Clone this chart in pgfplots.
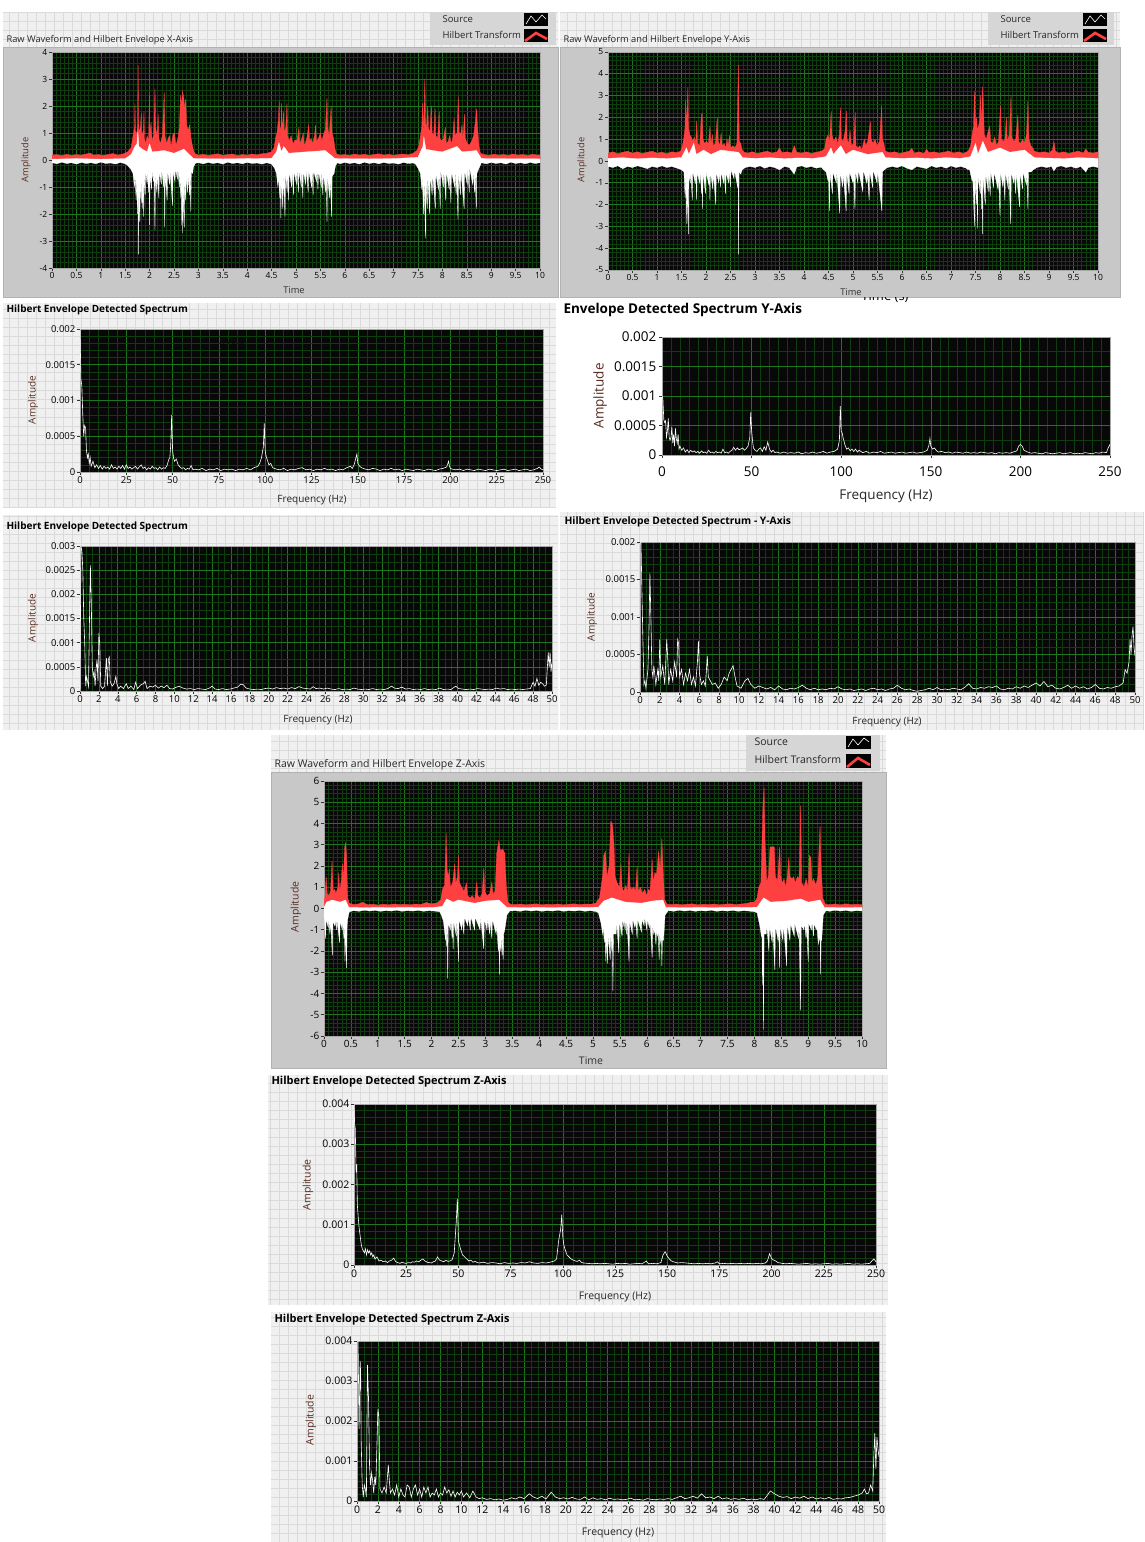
\documentclass[border=0pt]{standalone}
\usepackage{pgfplots}
\pgfplotsset{compat=1.18}
\usepackage{fontspec}
\setmainfont{Open Sans}
\definecolor{pbg}{RGB}{240,240,240}
\definecolor{pgr}{RGB}{218,218,218}
\definecolor{frm}{RGB}{200,200,200}
\definecolor{lvred}{RGB}{255,64,64}
\definecolor{gmaj}{RGB}{30,118,30}
\definecolor{gmin}{RGB}{14,62,14}
\definecolor{pbk}{RGB}{8,8,8}
\definecolor{amp}{RGB}{90,45,35}
\definecolor{lgbg}{RGB}{214,214,214}
\newcommand\fs[1]{\fontsize{#1}{#1}\selectfont}
\newcommand\gridpanel[4]{%
  \pgfmathsetmacro\ya{1542-#4}\pgfmathsetmacro\yb{1542-#2}%
  \fill[pbg] (#1pt,\ya pt) rectangle (#3pt,\yb pt);
  \begin{scope}\clip (#1pt,\ya pt) rectangle (#3pt,\yb pt);
  \draw[pgr,line width=0.6pt,step=9pt] (#1pt,\ya pt) grid (#3pt,\yb pt);\end{scope}}
\pgfplotsset{
 lv/.style={
  scale only axis, anchor=south west,
  axis background/.style={fill=pbk},
  grid=both,
  major grid style={draw=gmaj, line width=0.6pt},
  minor grid style={draw=gmin, line width=0.5pt},
  tick align=outside, tick pos=left,
  major tick length=3pt, minor tick length=0pt,
  major tick style={draw=black!80, line width=0.5pt},
  axis line style={draw=gray!70},
  /pgf/number format/assume math mode=true,
  scaled ticks=false, clip=true,
  xticklabel style={text=black, inner sep=1.5pt},
  yticklabel style={text=black, inner sep=1.5pt},
 },
 red/.style={draw=lvred, fill=lvred, line width=0.3pt},
 wht/.style={draw=white, fill=white, line width=0.3pt},
 zl/.style={draw=white, line width=2.4pt},
 spec/.style={draw=white, line width=0.6pt},
}
\begin{document}
\begin{tikzpicture}
\useasboundingbox (0,0) rectangle (1144pt,1542pt);
\fill[white] (0,0) rectangle (1144pt,1542pt);
\gridpanel{3}{12}{558}{48}
\gridpanel{560}{12}{1120}{48}
\gridpanel{3}{303}{556}{508}
\gridpanel{3}{515}{558}{730}
\gridpanel{560}{512}{1144}{730}
\gridpanel{271}{735}{886}{773}
\gridpanel{268}{1075}{888}{1305}
\gridpanel{271}{1312}{886}{1542}
\begin{scope}[x=1pt,y=-1pt,yshift=1542pt]
\fill[frm] (3,47) rectangle (558,297); \draw[gray!60] (3,47) rectangle (558,297);
\fill[frm] (560,47) rectangle (1120,297); \draw[gray!60] (560,47) rectangle (1120,297);
\fill[frm] (271,772) rectangle (886,1068); \draw[gray!60] (271,772) rectangle (886,1068);
\fill[lgbg] (430,12) rectangle (556,45);
\fill[black] (524,13) rectangle (548,26); \draw[white,line width=0.6pt] (526,24)--(531,16)--(536,22)--(542,15)--(546,19);
\fill[black] (524,29) rectangle (548,42); \draw[lvred,line width=2.6pt] (525,41)--(536,33)--(547,39);
\fill[lgbg] (988,12) rectangle (1114,45);
\fill[black] (1083,13) rectangle (1107,26); \draw[white,line width=0.6pt] (1085,24)--(1090,16)--(1095,22)--(1101,15)--(1105,19);
\fill[black] (1083,29) rectangle (1107,42); \draw[lvred,line width=2.6pt] (1084,41)--(1095,33)--(1106,39);
\fill[lgbg] (746,735) rectangle (880,771);
\fill[black] (846,736) rectangle (871,749); \draw[white,line width=0.6pt] (848,747)--(853,739)--(858,745)--(864,738)--(869,742);
\fill[black] (846,754) rectangle (871,768); \draw[lvred,line width=2.6pt] (847,767)--(858,758)--(870,765);
\end{scope}

% ---------------- Panel 1: X waveform
\begin{axis}[lv, at={(52pt,1274pt)}, width=488pt, height=216pt,
 xmin=0,xmax=10,ymin=-4,ymax=4, xtick={0,0.5,...,10}, ytick={-4,-3,...,4},
 minor x tick num=5, minor y tick num=4, ticklabel style={font=\fs{8.5}}]
\addplot[red] coordinates {(0,0.18)(0.1,0.2)(0.2,0.16)(0.3,0.21)(0.4,0.17)(0.5,0.2)(0.6,0.18)(0.7,0.22)(0.78,0.26)(0.85,0.18)(0.95,0.2)(1.05,0.17)(1.15,0.2)(1.25,0.24)(1.35,0.18)(1.45,0.22)(1.55,0.3)(1.62,0.45)
(1.66,0.9)(1.69,1.2)(1.70,2.1)(1.71,1.1)(1.73,0.9)(1.755,1.3)(1.765,3.5)(1.775,1.4)(1.79,1.0)(1.81,1.2)(1.83,1.75)(1.84,0.9)(1.87,1.1)(1.885,1.8)(1.895,0.8)(1.92,0.6)(1.95,0.9)(1.98,0.7)(1.995,2.4)(2.005,1.0)(2.03,1.4)(2.05,0.7)(2.08,0.9)(2.11,2.65)(2.125,1.2)(2.15,0.9)(2.175,1.7)(2.19,0.8)(2.22,0.6)(2.26,0.9)(2.3,2.5)(2.315,0.9)(2.35,0.6)(2.38,0.8)(2.41,0.9)(2.44,0.5)(2.48,0.95)(2.51,1.0)(2.54,0.55)(2.58,0.8)(2.61,1.2)(2.635,2.4)(2.655,2.0)(2.675,2.55)(2.70,2.3)(2.72,1.9)(2.74,2.25)(2.76,1.3)(2.79,1.1)(2.82,1.3)(2.85,0.8)(2.88,0.5)(2.91,0.3)(2.94,0.22)
(3.0,0.18)(3.1,0.21)(3.2,0.17)(3.3,0.2)(3.4,0.23)(3.5,0.17)(3.6,0.2)(3.7,0.22)(3.8,0.16)(3.9,0.2)(4.0,0.18)(4.1,0.22)(4.2,0.19)(4.3,0.23)(4.4,0.25)(4.5,0.3)(4.55,0.45)
(4.58,0.8)(4.61,1.0)(4.64,1.5)(4.655,2.2)(4.67,1.2)(4.69,1.1)(4.705,2.1)(4.72,1.0)(4.745,1.8)(4.76,1.0)(4.79,1.2)(4.815,2.1)(4.83,0.9)(4.86,0.7)(4.9,0.9)(4.94,0.6)(4.98,0.75)(5.02,0.7)(5.06,1.2)(5.08,0.6)(5.12,0.8)(5.15,1.0)(5.17,0.5)(5.22,0.8)(5.26,1.3)(5.28,0.7)(5.31,0.8)(5.34,0.6)(5.38,0.9)(5.40,1.3)(5.42,0.7)(5.46,0.8)(5.5,1.0)(5.53,0.7)(5.57,1.0)(5.6,1.1)(5.635,2.3)(5.65,1.2)(5.68,0.9)(5.72,2.0)(5.74,1.0)(5.77,0.8)(5.80,0.4)(5.83,0.22)
(5.9,0.18)(6.0,0.2)(6.1,0.17)(6.2,0.22)(6.3,0.18)(6.4,0.21)(6.5,0.17)(6.6,0.2)(6.7,0.23)(6.8,0.18)(6.9,0.21)(7.0,0.17)(7.1,0.2)(7.2,0.22)(7.3,0.19)(7.4,0.25)(7.48,0.35)(7.52,0.55)
(7.55,0.9)(7.575,1.2)(7.595,2.1)(7.61,1.0)(7.625,1.9)(7.64,3.0)(7.655,1.4)(7.67,1.1)(7.70,2.0)(7.715,1.2)(7.74,1.0)(7.775,2.0)(7.79,1.0)(7.82,0.9)(7.85,1.9)(7.865,0.9)(7.9,0.8)(7.935,1.8)(7.95,0.8)(7.98,0.7)(8.02,0.8)(8.06,1.2)(8.08,0.6)(8.12,0.7)(8.15,0.9)(8.18,0.6)(8.21,0.8)(8.24,1.55)(8.26,0.9)(8.30,1.0)(8.325,2.35)(8.345,1.0)(8.38,1.0)(8.40,1.3)(8.42,0.8)(8.455,1.7)(8.47,0.8)(8.51,0.6)(8.55,0.55)(8.6,0.7)(8.64,0.9)(8.68,1.5)(8.70,1.9)(8.72,1.2)(8.75,0.5)(8.78,0.25)
(8.85,0.2)(8.95,0.17)(9.05,0.21)(9.15,0.18)(9.25,0.2)(9.35,0.17)(9.45,0.22)(9.55,0.18)(9.65,0.2)(9.75,0.17)(9.85,0.21)(9.95,0.18)(10,0.19)} \closedcycle;
\addplot[wht] coordinates {(0,-0.1)(0.1,-0.14)(0.2,-0.08)(0.3,-0.13)(0.4,-0.1)(0.5,-0.15)(0.6,-0.09)(0.7,-0.13)(0.8,-0.1)(0.9,-0.14)(1.0,-0.08)(1.1,-0.13)(1.2,-0.11)(1.3,-0.15)(1.4,-0.09)(1.5,-0.14)
(1.55,-0.2)(1.62,-0.35)(1.66,-0.5)(1.69,-1.0)(1.70,-0.5)(1.725,-1.5)(1.735,-0.6)(1.755,-2.0)(1.765,-0.7)(1.775,-3.5)(1.785,-0.8)(1.80,-2.3)(1.81,-0.6)(1.83,-1.6)(1.84,-0.5)(1.855,-1.8)(1.865,-0.5)(1.88,-2.1)(1.89,-0.5)(1.91,-1.3)(1.92,-0.4)(1.95,-0.9)(1.96,-0.4)(1.98,-1.2)(1.99,-0.5)(2.00,-2.4)(2.01,-0.5)(2.04,-1.1)(2.05,-0.4)(2.08,-0.8)(2.09,-0.4)(2.11,-2.6)(2.12,-0.5)(2.15,-1.2)(2.16,-0.4)(2.19,-1.4)(2.2,-0.4)(2.24,-0.9)(2.25,-0.4)(2.29,-1.0)(2.30,-0.5)(2.31,-2.5)(2.32,-0.5)(2.36,-1.5)(2.37,-0.4)(2.41,-0.9)(2.42,-0.4)(2.47,-1.7)(2.48,-0.4)(2.52,-0.8)(2.53,-0.3)(2.57,-0.7)(2.58,-0.3)(2.61,-1.0)(2.62,-0.5)(2.64,-1.4)(2.65,-0.8)(2.66,-2.4)(2.67,-1.0)(2.68,-2.7)(2.69,-0.9)(2.71,-2.5)(2.72,-0.8)(2.74,-1.5)(2.75,-0.6)(2.78,-1.2)(2.79,-0.5)(2.82,-1.3)(2.83,-0.5)(2.845,-1.9)(2.855,-0.4)(2.88,-0.5)(2.9,-0.25)(2.94,-0.12)
(3.0,-0.1)(3.1,-0.14)(3.2,-0.09)(3.3,-0.13)(3.4,-0.1)(3.5,-0.15)(3.6,-0.08)(3.7,-0.13)(3.8,-0.1)(3.9,-0.14)(4.0,-0.09)(4.1,-0.13)(4.2,-0.11)(4.3,-0.15)(4.4,-0.1)
(4.5,-0.15)(4.56,-0.3)(4.6,-0.5)(4.63,-1.0)(4.64,-0.5)(4.67,-1.4)(4.68,-0.6)(4.69,-2.15)(4.70,-0.6)(4.73,-1.8)(4.74,-0.5)(4.775,-2.1)(4.785,-0.5)(4.82,-1.2)(4.83,-0.4)(4.85,-1.5)(4.86,-0.4)(4.91,-1.0)(4.92,-0.4)(4.95,-1.3)(4.96,-0.4)(5.01,-0.9)(5.02,-0.3)(5.05,-1.2)(5.06,-0.4)(5.11,-1.0)(5.12,-0.4)(5.14,-1.4)(5.15,-0.4)(5.2,-0.9)(5.21,-0.3)(5.25,-1.2)(5.26,-0.4)(5.32,-1.0)(5.33,-0.4)(5.35,-1.3)(5.36,-0.4)(5.42,-0.8)(5.43,-0.3)(5.45,-1.1)(5.46,-0.4)(5.52,-1.0)(5.53,-0.4)(5.55,-1.3)(5.56,-0.5)(5.61,-1.2)(5.62,-0.6)(5.635,-2.3)(5.645,-0.6)(5.69,-1.4)(5.70,-0.6)(5.73,-2.1)(5.74,-0.6)(5.78,-0.5)(5.81,-0.2)(5.85,-0.1)
(5.9,-0.14)(6.0,-0.09)(6.1,-0.13)(6.2,-0.1)(6.3,-0.15)(6.4,-0.08)(6.5,-0.13)(6.6,-0.1)(6.7,-0.14)(6.8,-0.09)(6.9,-0.13)(7.0,-0.11)(7.1,-0.15)(7.2,-0.09)(7.3,-0.13)(7.4,-0.11)
(7.45,-0.15)(7.5,-0.3)(7.55,-0.5)(7.58,-1.1)(7.59,-0.6)(7.615,-2.0)(7.625,-0.7)(7.655,-2.9)(7.665,-0.7)(7.69,-1.8)(7.70,-0.6)(7.74,-2.0)(7.75,-0.5)(7.79,-1.3)(7.80,-0.5)(7.855,-1.8)(7.865,-0.5)(7.92,-1.1)(7.93,-0.4)(7.955,-1.8)(7.965,-0.4)(8.02,-1.0)(8.03,-0.4)(8.07,-1.5)(8.08,-0.4)(8.14,-1.1)(8.15,-0.4)(8.175,-1.6)(8.185,-0.4)(8.25,-1.0)(8.26,-0.4)(8.28,-1.3)(8.29,-0.5)(8.32,-2.2)(8.33,-0.5)(8.37,-1.3)(8.38,-0.4)(8.445,-1.8)(8.455,-0.4)(8.51,-0.9)(8.52,-0.3)(8.55,-1.2)(8.56,-0.3)(8.62,-0.9)(8.63,-0.4)(8.66,-1.2)(8.67,-0.5)(8.695,-1.8)(8.705,-0.5)(8.75,-0.3)(8.8,-0.1)
(8.9,-0.14)(9.0,-0.09)(9.1,-0.13)(9.2,-0.1)(9.3,-0.15)(9.4,-0.08)(9.5,-0.13)(9.6,-0.1)(9.7,-0.14)(9.8,-0.09)(9.9,-0.13)(10,-0.1)} \closedcycle;
\addplot[wht] coordinates {(0,0.03)(0.5,0.05)(1.0,0.03)(1.5,0.05)(1.62,0.2)(1.7,0.5)(1.74,0.6)(1.76,1.05)(1.78,0.5)(1.85,0.4)(1.95,0.3)(2.0,0.6)(2.05,0.3)(2.3,0.35)(2.5,0.25)(2.7,0.4)(2.9,0.05)(3.5,0.04)(4.0,0.05)(4.5,0.06)(4.6,0.3)(4.65,0.65)(4.7,0.3)(4.75,0.5)(4.85,0.25)(5.2,0.3)(5.6,0.35)(5.8,0.05)(6.5,0.04)(7.0,0.05)(7.5,0.1)(7.6,0.5)(7.62,0.85)(7.66,0.4)(7.8,0.35)(8.0,0.3)(8.3,0.5)(8.4,0.3)(8.7,0.35)(8.8,0.05)(10,0.04)} \closedcycle;
\addplot[zl] coordinates {(0,-0.02)(10,-0.02)};
\end{axis}

% ---------------- Panel 2: Y waveform
\begin{axis}[lv, at={(608pt,1272pt)}, width=490pt, height=218pt,
 xmin=0,xmax=10,ymin=-5,ymax=5, xtick={0,0.5,...,10}, ytick={-5,-4,...,5},
 minor x tick num=5, minor y tick num=4, ticklabel style={font=\fs{8.5}}]
\addplot[red] coordinates {(0,0.35)(0.1,0.42)(0.2,0.33)(0.3,0.4)(0.4,0.45)(0.5,0.36)(0.6,0.42)(0.7,0.34)(0.8,0.4)(0.9,0.45)(1.0,0.36)(1.1,0.4)(1.2,0.33)(1.3,0.42)(1.4,0.38)(1.48,0.45)(1.52,0.7)
(1.55,1.1)(1.57,1.5)(1.585,2.8)(1.6,1.6)(1.615,2.4)(1.63,3.35)(1.645,1.5)(1.67,1.2)(1.70,1.1)(1.73,0.9)(1.76,1.1)(1.79,0.8)(1.81,1.85)(1.83,0.8)(1.87,0.7)(1.905,2.1)(1.92,2.2)(1.94,1.0)(1.97,0.8)(2.01,0.9)(2.05,0.8)(2.08,1.6)(2.1,0.8)(2.13,1.2)(2.15,0.7)(2.19,0.8)(2.23,2.0)(2.25,0.9)(2.28,0.7)(2.31,1.3)(2.33,0.7)(2.37,0.8)(2.40,0.6)(2.43,1.0)(2.45,0.7)(2.48,1.15)(2.50,0.6)(2.55,0.7)(2.59,0.6)(2.63,0.8)(2.66,4.4)(2.68,0.9)(2.71,0.8)(2.74,0.5)(2.78,0.4)
(2.85,0.36)(2.95,0.42)(3.05,0.34)(3.15,0.4)(3.25,0.45)(3.35,0.36)(3.45,0.42)(3.5,0.6)(3.55,0.38)(3.65,0.42)(3.75,0.36)(3.8,0.7)(3.85,0.4)(3.95,0.36)(4.05,0.42)(4.15,0.34)(4.25,0.4)(4.35,0.45)(4.42,0.55)
(4.45,1.0)(4.49,1.2)(4.52,0.9)(4.555,2.3)(4.57,1.2)(4.61,0.9)(4.65,1.1)(4.69,0.8)(4.72,1.2)(4.745,2.45)(4.76,1.0)(4.8,0.9)(4.84,1.4)(4.865,2.3)(4.88,1.0)(4.91,0.8)(4.94,1.4)(4.97,0.7)(5.01,0.8)(5.045,2.25)(5.06,0.7)(5.1,0.6)(5.14,0.7)(5.18,0.5)(5.23,1.0)(5.26,0.7)(5.3,0.9)(5.355,1.8)(5.37,1.0)(5.41,0.8)(5.45,1.0)(5.49,0.7)(5.54,0.9)(5.585,2.55)(5.6,1.0)(5.63,0.8)(5.66,0.45)
(5.75,0.38)(5.85,0.42)(5.95,0.34)(6.05,0.4)(6.15,0.45)(6.2,0.58)(6.25,0.36)(6.35,0.42)(6.45,0.34)(6.5,0.55)(6.55,0.38)(6.65,0.42)(6.75,0.36)(6.85,0.4)(6.95,0.45)(7.05,0.36)(7.15,0.42)(7.25,0.34)(7.35,0.45)(7.4,0.7)
(7.43,1.2)(7.46,1.6)(7.48,3.2)(7.50,1.5)(7.52,2.0)(7.54,1.4)(7.58,1.8)(7.60,3.0)(7.62,1.6)(7.645,3.4)(7.66,2.6)(7.68,1.2)(7.72,1.0)(7.75,1.3)(7.79,1.6)(7.81,0.9)(7.85,0.8)(7.89,1.1)(7.93,0.7)(7.97,0.9)(8.01,2.55)(8.03,1.0)(8.07,0.9)(8.10,1.0)(8.13,2.0)(8.15,0.9)(8.19,1.2)(8.225,3.0)(8.24,1.1)(8.28,0.9)(8.32,1.0)(8.365,2.1)(8.38,0.9)(8.42,0.8)(8.46,1.0)(8.5,0.8)(8.54,1.2)(8.57,2.75)(8.59,1.0)(8.63,0.7)(8.67,0.6)(8.7,0.45)
(8.8,0.38)(8.9,0.42)(9.0,0.36)(9.07,0.5)(9.1,0.9)(9.13,0.45)(9.2,0.36)(9.3,0.42)(9.4,0.34)(9.5,0.4)(9.6,0.45)(9.7,0.36)(9.75,0.55)(9.8,0.4)(9.9,0.36)(10,0.42)} \closedcycle;
\addplot[wht] coordinates {(0,-0.25)(0.1,-0.3)(0.2,-0.22)(0.3,-0.35)(0.4,-0.25)(0.5,-0.3)(0.6,-0.22)(0.7,-0.28)(0.8,-0.35)(0.9,-0.25)(1.0,-0.3)(1.1,-0.22)(1.2,-0.3)(1.3,-0.25)(1.4,-0.32)(1.5,-0.4)
(1.55,-0.5)(1.575,-1.7)(1.585,-0.6)(1.61,-2.9)(1.62,-0.8)(1.64,-3.35)(1.65,-0.7)(1.68,-1.0)(1.69,-0.5)(1.72,-1.8)(1.73,-0.5)(1.78,-1.0)(1.79,-0.5)(1.81,-1.8)(1.82,-0.5)(1.87,-1.0)(1.88,-0.5)(1.91,-1.5)(1.92,-0.6)(1.93,-2.2)(1.94,-0.5)(1.99,-1.5)(2.0,-0.5)(2.06,-1.1)(2.07,-0.5)(2.08,-1.8)(2.09,-0.5)(2.14,-1.3)(2.15,-0.5)(2.2,-2.0)(2.21,-0.5)(2.26,-1.0)(2.27,-0.5)(2.3,-1.2)(2.31,-0.5)(2.36,-1.0)(2.37,-0.5)(2.4,-1.5)(2.41,-0.5)(2.46,-1.0)(2.47,-0.5)(2.5,-1.2)(2.51,-0.4)(2.57,-0.8)(2.58,-0.4)(2.645,-1.2)(2.655,-0.5)(2.665,-4.3)(2.675,-0.5)(2.71,-0.6)(2.74,-0.4)(2.8,-0.3)
(2.9,-0.25)(3.0,-0.3)(3.1,-0.22)(3.2,-0.33)(3.3,-0.25)(3.4,-0.3)(3.5,-0.4)(3.6,-0.25)(3.7,-0.3)(3.8,-0.6)(3.85,-0.28)(3.95,-0.22)(4.05,-0.3)(4.15,-0.25)(4.25,-0.33)(4.35,-0.28)(4.4,-0.4)
(4.45,-0.5)(4.49,-0.9)(4.50,-0.5)(4.52,-2.3)(4.53,-0.5)(4.58,-1.5)(4.59,-0.5)(4.66,-1.0)(4.67,-0.5)(4.73,-2.4)(4.74,-0.5)(4.79,-1.2)(4.8,-0.5)(4.86,-2.3)(4.87,-0.5)(4.92,-1.5)(4.93,-0.5)(5.0,-1.0)(5.01,-0.5)(5.04,-2.2)(5.05,-0.5)(5.1,-1.0)(5.11,-0.4)(5.2,-1.4)(5.21,-0.4)(5.28,-1.0)(5.29,-0.5)(5.33,-1.8)(5.34,-0.5)(5.4,-1.2)(5.41,-0.4)(5.49,-1.0)(5.5,-0.4)(5.59,-2.3)(5.60,-0.5)(5.64,-0.4)(5.7,-0.3)
(5.8,-0.25)(5.9,-0.3)(6.0,-0.22)(6.1,-0.33)(6.2,-0.4)(6.3,-0.25)(6.4,-0.3)(6.5,-0.35)(6.6,-0.22)(6.7,-0.3)(6.8,-0.25)(6.9,-0.33)(7.0,-0.22)(7.1,-0.3)(7.2,-0.25)(7.3,-0.32)(7.35,-0.4)
(7.38,-0.4)(7.43,-0.9)(7.44,-0.5)(7.48,-3.0)(7.49,-0.7)(7.52,-2.0)(7.53,-0.7)(7.54,-3.1)(7.55,-0.7)(7.6,-1.5)(7.61,-0.6)(7.625,-2.2)(7.63,-0.8)(7.64,-3.35)(7.65,-0.7)(7.7,-2.0)(7.71,-0.6)(7.76,-1.4)(7.77,-0.5)(7.8,-1.6)(7.81,-0.5)(7.87,-1.2)(7.88,-0.5)(7.96,-1.3)(7.97,-0.5)(8.0,-2.5)(8.01,-0.5)(8.06,-1.2)(8.07,-0.5)(8.1,-1.8)(8.11,-0.5)(8.17,-1.3)(8.18,-0.5)(8.22,-2.9)(8.23,-0.5)(8.28,-1.0)(8.29,-0.5)(8.32,-1.5)(8.33,-0.5)(8.4,-2.1)(8.41,-0.5)(8.46,-1.3)(8.47,-0.5)(8.54,-1.1)(8.55,-0.5)(8.57,-2.2)(8.58,-0.5)(8.63,-0.5)(8.68,-0.4)(8.75,-0.3)
(8.85,-0.25)(8.95,-0.3)(9.05,-0.25)(9.1,-0.45)(9.15,-0.28)(9.25,-0.22)(9.35,-0.3)(9.45,-0.25)(9.55,-0.33)(9.65,-0.25)(9.75,-0.5)(9.8,-0.3)(9.9,-0.25)(10,-0.3)} \closedcycle;
\addplot[wht] coordinates {(0,0.12)(0.3,0.15)(0.6,0.1)(0.9,0.14)(1.2,0.11)(1.5,0.16)(1.6,0.6)(1.65,0.3)(1.75,0.8)(1.8,0.3)(1.95,0.5)(2.1,0.3)(2.3,0.5)(2.66,0.4)(2.75,0.15)(3.0,0.12)(3.3,0.15)(3.6,0.11)(3.9,0.14)(4.2,0.12)(4.45,0.2)(4.55,0.6)(4.6,0.3)(4.75,0.7)(4.85,0.3)(5.0,0.5)(5.3,0.3)(5.6,0.4)(5.66,0.15)(6.0,0.12)(6.3,0.14)(6.6,0.11)(6.9,0.15)(7.2,0.12)(7.4,0.2)(7.5,0.8)(7.55,0.3)(7.65,0.9)(7.75,0.4)(8.0,0.6)(8.2,0.4)(8.5,0.5)(8.7,0.15)(9.0,0.13)(9.3,0.11)(9.6,0.15)(10,0.12)} \closedcycle;
\addplot[zl] coordinates {(0,-0.05)(10,-0.05)};
\addplot[zl] coordinates {(0,-0.15)(10,-0.15)};
\end{axis}

% ---------------- Panel 3: X spectrum 0-250
\begin{axis}[lv, at={(80pt,1070pt)}, width=463pt, height=143pt,
 xmin=0,xmax=250,ymin=0,ymax=0.002, xtick={0,25,...,250},
 ytick={0,0.0005,0.001,0.0015,0.002}, yticklabels={0,0.0005,0.001,0.0015,0.002},
 minor x tick num=4, minor y tick num=4, ticklabel style={font=\fs{9.5}}]
\addplot[spec] coordinates {(0,0.0020)(0.5,0.0013)(1,0.0012)(1.5,0.0008)(2,0.0005)(2.5,0.00065)(3,0.00062)(3.5,0.0003)(4,0.0002)(4.5,0.00025)(5,0.00012)(5.5,0.0002)(6,0.00008)(7,0.00015)(8,0.00006)(9,0.0001)(10,0.00005)(11,0.00009)(12,0.00004)(13,0.00008)(14,0.00005)(15,0.00007)(16,0.00004)(17,0.0001)(18,0.00005)(19,0.00007)(20,0.00004)(21,0.00008)(22,0.00005)(23,0.00009)(24,0.00004)(25,0.0001)(26,0.00005)(27,0.00007)(28,0.00004)(29,0.00006)(30,0.00008)(31,0.00004)(32,0.00007)(33,0.0001)(34,0.00005)(35,0.00007)(36,0.00003)(37,0.00006)(38,0.00004)(39,0.00008)(40,0.00005)(41,0.00006)(42,0.00003)(43,0.00007)(44,0.00004)(45,0.00006)(46,0.00005)(47,0.00009)(48,0.00018)(48.5,0.0002)(49,0.00038)(49.5,0.0008)(50,0.0003)(50.5,0.0002)(51,0.00015)(52,0.00018)(53,0.0001)(54,0.00007)(55,0.00005)(56,0.00006)(57,0.00003)(58,0.00005)(59,0.00004)(60,0.00009)(61,0.00003)(62,0.00004)(64,0.00003)(66,0.00005)(68,0.00002)(70,0.00004)(72,0.00003)(74,0.00005)(76,0.00002)(78,0.00004)(80,0.00003)(82,0.00004)(84,0.00002)(86,0.00004)(88,0.00003)(90,0.00005)(92,0.00003)(94,0.00006)(96,0.00008)(97,0.00012)(98,0.0002)(99,0.00035)(99.5,0.00068)(100,0.0003)(100.5,0.00022)(101,0.00018)(102,0.0001)(103,0.00012)(104,0.00006)(106,0.00004)(108,0.00003)(110,0.00005)(112,0.00002)(114,0.00004)(116,0.00003)(118,0.00005)(120,0.00006)(122,0.00003)(124,0.00004)(126,0.00002)(128,0.00004)(130,0.00003)(132,0.00005)(134,0.00003)(136,0.00004)(138,0.00002)(140,0.00004)(142,0.00003)(144,0.00006)(146,0.00008)(147,0.00005)(148,0.0001)(149,0.0002)(149.5,0.00025)(150,0.00012)(151,0.00008)(152,0.00006)(154,0.00004)(156,0.00003)(158,0.00005)(160,0.00004)(162,0.00002)(164,0.00004)(166,0.00003)(168,0.00005)(170,0.00003)(172,0.00004)(174,0.00002)(176,0.00004)(178,0.00003)(180,0.00002)(182,0.00004)(184,0.00003)(186,0.00002)(188,0.00004)(190,0.00003)(192,0.00002)(194,0.00004)(196,0.00005)(198,0.00007)(199,0.00015)(199.5,0.00008)(200,0.00005)(201,0.00004)(203,0.00003)(205,0.00004)(207,0.00002)(209,0.00004)(211,0.00003)(213,0.00002)(215,0.00004)(217,0.00003)(219,0.00002)(221,0.00004)(223,0.00003)(225,0.00002)(227,0.00003)(229,0.00004)(231,0.00002)(233,0.00003)(235,0.00004)(237,0.00002)(239,0.00003)(241,0.00004)(243,0.00002)(245,0.00003)(247,0.00005)(248,0.00007)(249,0.00004)(250,0.00003)};
\end{axis}

% ---------------- Panel 4: Y spectrum 0-250 (large fonts)
\begin{axis}[lv, at={(662pt,1087pt)}, width=448pt, height=118pt,
 xmin=0,xmax=250,ymin=0,ymax=0.002, xtick={0,50,...,250},
 ytick={0,0.0005,0.001,0.0015,0.002}, yticklabels={0,0.0005,0.001,0.0015,0.002},
 minor x tick num=9, minor y tick num=1, ticklabel style={font=\fs{13.5}},
 xticklabel style={yshift=-7pt}, yticklabel style={xshift=-1pt}]
\addplot[spec] coordinates {(0,0.001)(0.5,0.00095)(1,0.0006)(1.5,0.00055)(2,0.00058)(2.5,0.0003)(3,0.0004)(3.5,0.00062)(4,0.0003)(4.5,0.00025)(5,0.0003)(5.5,0.00048)(6,0.0002)(6.5,0.00035)(7,0.00015)(7.5,0.00045)(8,0.00028)(8.5,0.0002)(9,0.00035)(9.5,0.0001)(10,0.00015)(11,0.00008)(12,0.00012)(13,0.00005)(14,0.00009)(15,0.00004)(16,0.00008)(17,0.00005)(18,0.00007)(19,0.00004)(20,0.00006)(21,0.00003)(22,0.00007)(23,0.00004)(24,0.00005)(25,0.00003)(26,0.00008)(27,0.00004)(28,0.00005)(29,0.00003)(30,0.00006)(31,0.00004)(32,0.00005)(33,0.00003)(34,0.0001)(35,0.00004)(36,0.00005)(37,0.00003)(38,0.00006)(39,0.00008)(40,0.00013)(41,0.00008)(42,0.00012)(43,0.00009)(44,0.0001)(45,0.00012)(46,0.00008)(47,0.00011)(48,0.00015)(49,0.0003)(49.5,0.00072)(50,0.00042)(50.5,0.00025)(51,0.00012)(52,0.00008)(53,0.00006)(54,0.0001)(55,0.00012)(56,0.00006)(57,0.00014)(58,0.00008)(59,0.00022)(60,0.0001)(61,0.00005)(62,0.00008)(63,0.00004)(64,0.00005)(66,0.00003)(68,0.00005)(70,0.00003)(72,0.00004)(74,0.00003)(76,0.00005)(78,0.00002)(80,0.00004)(82,0.00003)(84,0.00005)(86,0.00003)(88,0.00004)(90,0.00006)(92,0.00003)(94,0.00005)(96,0.00006)(97,0.00008)(98,0.0001)(99,0.00025)(99.5,0.00083)(100,0.0004)(100.5,0.00038)(101,0.0003)(102,0.00018)(103,0.0001)(104,0.00012)(105,0.00007)(106,0.0001)(107,0.00006)(108,0.0001)(109,0.00005)(110,0.00008)(112,0.00004)(114,0.00006)(116,0.00003)(118,0.00005)(120,0.00004)(122,0.00006)(124,0.00003)(126,0.00004)(128,0.00005)(130,0.00003)(132,0.00004)(134,0.00005)(136,0.00003)(138,0.00004)(140,0.00005)(142,0.00003)(144,0.00004)(146,0.00005)(148,0.00008)(149,0.00017)(149.5,0.00028)(150,0.00015)(151,0.0001)(152,0.00012)(153,0.00008)(154,0.00005)(156,0.00006)(158,0.00004)(160,0.00005)(162,0.00003)(164,0.00005)(166,0.00004)(168,0.00003)(170,0.00005)(172,0.00003)(174,0.00004)(176,0.00003)(178,0.00005)(180,0.00004)(182,0.00003)(184,0.00004)(186,0.00002)(188,0.00004)(190,0.00003)(192,0.00004)(194,0.00003)(196,0.00005)(198,0.00007)(199,0.00015)(200,0.00018)(201,0.00015)(202,0.00008)(204,0.00005)(206,0.00003)(208,0.00004)(210,0.00003)(212,0.00002)(214,0.00004)(216,0.00003)(218,0.00002)(220,0.00003)(222,0.00004)(224,0.00002)(226,0.00003)(228,0.00004)(230,0.00002)(232,0.00003)(234,0.00002)(236,0.00004)(238,0.00003)(240,0.00002)(242,0.00004)(244,0.00003)(246,0.00005)(248,0.00004)(249,0.00012)(250,0.00018)};
\end{axis}

% ---------------- Panel 5: X spectrum 0-50
\begin{axis}[lv, at={(80pt,851pt)}, width=472pt, height=145pt,
 xmin=0,xmax=50,ymin=0,ymax=0.003, xtick={0,2,...,50},
 ytick={0,0.0005,0.001,0.0015,0.002,0.0025,0.003}, yticklabels={0,0.0005,0.001,0.0015,0.002,0.0025,0.003},
 minor x tick num=2, minor y tick num=2, ticklabel style={font=\fs{9.5}}]
\addplot[spec] coordinates {(0,0.00005)(0.1,0.003)(0.2,0.0029)(0.3,0.0025)(0.4,0.0015)(0.5,0.001)(0.6,0.0001)(0.7,0.0003)(0.8,0.0002)(0.9,0.0001)(1.0,0.0014)(1.1,0.0026)(1.2,0.0018)(1.3,0.0005)(1.4,0.0003)(1.5,0.0004)(1.6,0.0001)(1.7,0.00045)(1.8,0.00065)(1.9,0.0002)(2.0,0.0012)(2.1,0.00095)(2.2,0.0001)(2.4,0.00005)(2.6,0.0001)(2.7,0.0004)(2.8,0.00068)(2.9,0.0001)(3.0,0.00065)(3.1,0.0007)(3.2,0.0002)(3.4,0.0001)(3.6,0.00015)(3.8,0.0003)(3.9,0.00015)(4.1,0.00005)(4.3,0.0001)(4.6,0.00005)(4.9,0.00015)(5.1,0.00005)(5.4,0.0001)(5.7,0.00003)(5.9,0.00018)(6.1,0.00005)(6.4,0.00012)(6.7,0.00015)(6.9,0.0002)(7.1,0.00005)(7.4,0.0001)(7.7,0.00008)(8.0,0.00012)(8.3,0.00006)(8.6,0.0001)(8.9,0.00007)(9.2,0.00012)(9.5,0.00005)(9.8,0.00004)(10.1,0.00007)(10.5,0.0001)(10.9,0.00006)(11.3,0.00004)(11.7,0.00005)(12.1,0.00003)(12.5,0.00005)(12.9,0.00004)(13.3,0.00003)(13.7,0.00006)(14.0,0.0001)(14.3,0.00004)(14.7,0.00003)(15.1,0.00005)(15.5,0.00003)(15.9,0.00004)(16.3,0.00006)(16.7,0.00008)(17.0,0.00014)(17.3,0.00013)(17.6,0.00006)(18.0,0.00004)(18.4,0.00003)(18.8,0.00004)(19.2,0.00003)(19.6,0.00005)(20.0,0.00006)(20.4,0.00004)(20.8,0.00007)(21.2,0.00005)(21.6,0.00006)(22.0,0.00004)(22.4,0.00007)(22.8,0.00005)(23.2,0.00009)(23.6,0.00006)(24.0,0.00005)(24.4,0.00004)(24.7,0.00009)(25.0,0.00005)(25.4,0.00006)(25.8,0.00004)(26.2,0.00006)(26.6,0.00004)(27.0,0.00003)(27.4,0.00005)(27.8,0.00003)(28.2,0.00004)(28.6,0.00003)(29.0,0.00006)(29.4,0.00004)(29.8,0.00003)(30.2,0.00004)(30.6,0.00003)(31.0,0.00005)(31.4,0.00003)(31.8,0.00004)(32.2,0.00003)(32.6,0.00005)(33.0,0.0001)(33.3,0.00006)(33.7,0.00005)(34.1,0.00008)(34.5,0.00004)(34.9,0.00005)(35.3,0.00003)(35.7,0.00004)(36.1,0.00003)(36.5,0.00005)(36.9,0.00003)(37.3,0.00004)(37.7,0.00003)(38.1,0.00006)(38.5,0.00003)(38.9,0.00004)(39.3,0.00003)(39.8,0.0001)(40.1,0.00005)(40.5,0.00004)(40.9,0.00003)(41.3,0.00004)(41.7,0.00003)(42.1,0.00005)(42.5,0.00004)(42.9,0.00003)(43.3,0.00004)(43.7,0.00003)(44.1,0.00006)(44.5,0.00004)(44.9,0.00005)(45.3,0.00003)(45.7,0.00004)(46.1,0.00003)(46.5,0.00004)(46.9,0.00003)(47.3,0.00004)(47.7,0.00005)(48.0,0.00018)(48.2,0.0001)(48.4,0.00026)(48.6,0.00012)(48.8,0.00018)(49.0,0.00015)(49.2,0.0001)(49.4,0.00012)(49.6,0.0008)(49.7,0.0005)(49.8,0.0008)(49.9,0.0004)(50,0.0006)};
\end{axis}

% ---------------- Panel 6: Y spectrum 0-50
\begin{axis}[lv, at={(640pt,850pt)}, width=495pt, height=150pt,
 xmin=0,xmax=50,ymin=0,ymax=0.002, xtick={0,2,...,50},
 ytick={0,0.0005,0.001,0.0015,0.002}, yticklabels={0,0.0005,0.001,0.0015,0.002},
 minor x tick num=2, minor y tick num=4, ticklabel style={font=\fs{9.5}}]
\addplot[spec] coordinates {(0,0.002)(0.1,0.002)(0.2,0.0013)(0.3,0.00065)(0.4,0.0001)(0.5,0.00015)(0.6,0.00005)(0.8,0.0003)(0.9,0.0008)(1.0,0.00158)(1.1,0.001)(1.2,0.0003)(1.3,0.0002)(1.4,0.00035)(1.6,0.0001)(1.8,0.0003)(1.9,0.00015)(2.0,0.0007)(2.1,0.0002)(2.3,0.00035)(2.5,0.0001)(2.7,0.0007)(2.8,0.00045)(2.9,0.0001)(3.1,0.0003)(3.3,0.00015)(3.5,0.0004)(3.7,0.0002)(3.8,0.0007)(3.9,0.00065)(4.0,0.0002)(4.2,0.0003)(4.4,0.0001)(4.6,0.00025)(4.8,0.00015)(5.0,0.0003)(5.2,0.0001)(5.4,0.0002)(5.6,0.00008)(5.8,0.0004)(5.9,0.00068)(6.0,0.00025)(6.2,0.0001)(6.4,0.00015)(6.6,0.00008)(6.8,0.00048)(6.9,0.0002)(7.1,0.00015)(7.3,0.0001)(7.6,0.00012)(7.9,0.00005)(8.2,0.0001)(8.5,0.0002)(8.8,0.00015)(9.0,0.00025)(9.2,0.0003)(9.4,0.00035)(9.6,0.0002)(9.8,0.00008)(10.2,0.00005)(10.6,0.00015)(10.9,0.00018)(11.2,0.0001)(11.6,0.00005)(12.0,0.00008)(12.4,0.00006)(12.8,0.00004)(13.2,0.00006)(13.6,0.00003)(14.0,0.00008)(14.4,0.00004)(14.8,0.00003)(15.2,0.00005)(15.6,0.00004)(16.0,0.00006)(16.4,0.00009)(16.8,0.00005)(17.2,0.00003)(17.6,0.00005)(18.0,0.00003)(18.4,0.00004)(18.8,0.00003)(19.2,0.00005)(19.6,0.00004)(20.0,0.00007)(20.4,0.00004)(20.8,0.00003)(21.2,0.00004)(21.6,0.00002)(22.0,0.00003)(22.4,0.00004)(22.8,0.00002)(23.2,0.00004)(23.6,0.00005)(24.0,0.00003)(24.4,0.00004)(24.8,0.00002)(25.2,0.00004)(25.6,0.00005)(26.0,0.00009)(26.4,0.00005)(26.8,0.00003)(27.2,0.00004)(27.6,0.00002)(28.0,0.00001)(28.4,0.00002)(28.8,0.00003)(29.2,0.00005)(29.6,0.00003)(30.0,0.00006)(30.4,0.00003)(30.8,0.00004)(31.2,0.00003)(31.6,0.00005)(32.0,0.00004)(32.4,0.00003)(32.8,0.00006)(33.2,0.00011)(33.6,0.00005)(34.0,0.00004)(34.4,0.00006)(34.8,0.00005)(35.2,0.00007)(35.6,0.00006)(36.0,0.00008)(36.4,0.00004)(36.8,0.00003)(37.2,0.00005)(37.6,0.00004)(38.0,0.00007)(38.4,0.00005)(38.8,0.00008)(39.2,0.00006)(39.6,0.00009)(40.0,0.00012)(40.4,0.00008)(40.8,0.00014)(41.2,0.00007)(41.6,0.00009)(42.0,0.00005)(42.4,0.00004)(42.8,0.00006)(43.2,0.00009)(43.6,0.00005)(44.0,0.00008)(44.4,0.00005)(44.8,0.00007)(45.2,0.00004)(45.6,0.00006)(46.0,0.0001)(46.4,0.00005)(46.8,0.00004)(47.2,0.00006)(47.6,0.00005)(48.0,0.00007)(48.4,0.00008)(48.8,0.00012)(49.0,0.0003)(49.2,0.00025)(49.4,0.0004)(49.5,0.0007)(49.6,0.0005)(49.7,0.00075)(49.8,0.00087)(49.9,0.0006)(50,0.00048)};
\end{axis}

% ---------------- Panel 7: Z waveform
\begin{axis}[lv, at={(324pt,506pt)}, width=538pt, height=255pt,
 xmin=0,xmax=10,ymin=-6,ymax=6, xtick={0,0.5,...,10}, ytick={-6,-5,...,6},
 minor x tick num=5, minor y tick num=4, ticklabel style={font=\fs{10}}]
\addplot[red] coordinates {(0,0.3)(0.02,0.6)(0.04,1.5)(0.06,0.7)(0.09,0.6)(0.12,0.8)(0.15,2.25)(0.17,0.8)(0.2,0.9)(0.22,0.7)(0.26,1.0)(0.275,1.7)(0.29,0.8)(0.32,1.3)(0.34,2.1)(0.36,1.4)(0.385,2.9)(0.40,3.1)(0.42,2.5)(0.44,0.5)(0.47,0.25)
(0.55,0.18)(0.65,0.22)(0.72,0.3)(0.8,0.18)(0.9,0.2)(1.0,0.16)(1.1,0.2)(1.2,0.17)(1.3,0.21)(1.4,0.18)(1.5,0.2)(1.6,0.17)(1.7,0.21)(1.8,0.19)(1.9,0.28)(2.0,0.22)(2.1,0.26)(2.17,0.4)
(2.2,0.9)(2.24,1.1)(2.27,3.55)(2.29,1.8)(2.31,1.5)(2.33,1.85)(2.35,1.0)(2.39,1.2)(2.43,2.1)(2.45,1.2)(2.48,1.5)(2.5,2.5)(2.52,1.2)(2.56,1.0)(2.6,0.8)(2.65,1.2)(2.67,0.6)(2.71,0.5)(2.76,0.6)(2.8,0.4)(2.84,1.25)(2.86,0.6)(2.9,0.5)(2.94,0.7)(2.97,1.9)(2.99,0.8)(3.03,0.6)(3.08,0.7)(3.12,1.25)(3.14,0.7)(3.18,0.8)(3.21,2.6)(3.25,3.2)(3.28,2.7)(3.32,2.8)(3.36,2.6)(3.39,1.0)(3.42,0.3)(3.47,0.2)
(3.55,0.18)(3.65,0.21)(3.75,0.17)(3.85,0.2)(3.95,0.22)(4.05,0.17)(4.15,0.2)(4.25,0.18)(4.35,0.21)(4.45,0.17)(4.55,0.2)(4.65,0.22)(4.75,0.18)(4.85,0.21)(4.95,0.2)(5.05,0.25)(5.12,0.5)
(5.15,1.0)(5.18,1.6)(5.2,2.5)(5.23,2.7)(5.26,1.5)(5.3,2.0)(5.33,4.1)(5.36,4.0)(5.39,3.0)(5.41,1.5)(5.45,1.2)(5.49,1.0)(5.52,2.1)(5.54,1.0)(5.57,0.8)(5.61,1.1)(5.64,0.8)(5.67,2.6)(5.69,1.0)(5.72,0.9)(5.76,1.0)(5.79,0.8)(5.82,2.0)(5.84,0.8)(5.88,1.0)(5.92,0.7)(5.96,0.9)(6.0,0.6)(6.03,0.9)(6.06,0.8)(6.1,2.3)(6.12,1.2)(6.15,1.7)(6.18,1.6)(6.22,2.7)(6.25,1.8)(6.28,3.3)(6.30,2.0)(6.33,0.4)(6.38,0.2)
(6.45,0.18)(6.55,0.21)(6.65,0.17)(6.75,0.2)(6.85,0.22)(6.95,0.17)(7.05,0.2)(7.15,0.18)(7.25,0.21)(7.35,0.17)(7.45,0.2)(7.55,0.22)(7.65,0.18)(7.75,0.21)(7.85,0.24)(7.95,0.3)(8.0,0.3)(8.05,0.5)
(8.08,1.0)(8.12,1.2)(8.16,5.0)(8.18,5.7)(8.20,3.0)(8.23,1.3)(8.26,1.5)(8.29,2.9)(8.33,2.9)(8.37,2.9)(8.39,1.5)(8.43,1.3)(8.47,2.9)(8.49,1.5)(8.52,1.2)(8.55,1.4)(8.58,1.0)(8.61,1.5)(8.64,2.4)(8.66,1.5)(8.7,1.4)(8.73,1.5)(8.76,1.2)(8.8,1.5)(8.83,1.4)(8.86,4.85)(8.88,1.2)(8.92,1.0)(8.96,1.4)(9.0,1.0)(9.02,2.5)(9.05,2.4)(9.07,1.2)(9.1,1.4)(9.14,1.1)(9.18,1.5)(9.22,3.9)(9.24,2.0)(9.27,0.5)(9.32,0.2)
(9.4,0.18)(9.5,0.21)(9.6,0.17)(9.7,0.22)(9.8,0.18)(9.9,0.2)(10,0.17)} \closedcycle;
\addplot[wht] coordinates {(0,-0.3)(0.03,-1.4)(0.04,-0.5)(0.08,-0.9)(0.09,-0.5)(0.11,-1.2)(0.12,-0.5)(0.155,-2.2)(0.165,-0.6)(0.2,-0.8)(0.21,-0.5)(0.23,-1.0)(0.24,-0.5)(0.29,-1.6)(0.30,-0.6)(0.34,-1.0)(0.35,-0.6)(0.37,-1.4)(0.38,-0.7)(0.39,-2.5)(0.40,-1.0)(0.42,-2.8)(0.43,-0.8)(0.44,-0.5)(0.47,-0.15)
(0.55,-0.1)(0.65,-0.13)(0.75,-0.08)(0.85,-0.12)(0.95,-0.09)(1.05,-0.13)(1.15,-0.1)(1.25,-0.12)(1.35,-0.08)(1.45,-0.13)(1.55,-0.1)(1.65,-0.12)(1.75,-0.09)(1.85,-0.13)(1.95,-0.1)(2.05,-0.12)(2.15,-0.15)
(2.18,-0.3)(2.22,-0.6)(2.26,-1.5)(2.27,-0.7)(2.28,-1.8)(2.29,-0.8)(2.30,-3.3)(2.31,-0.7)(2.35,-1.0)(2.36,-0.5)(2.38,-1.4)(2.39,-0.6)(2.40,-1.9)(2.41,-0.6)(2.46,-1.3)(2.47,-0.5)(2.5,-2.5)(2.51,-0.5)(2.56,-1.0)(2.57,-0.5)(2.6,-1.2)(2.61,-0.4)(2.67,-0.8)(2.68,-0.4)(2.72,-1.0)(2.73,-0.4)(2.8,-1.0)(2.81,-0.4)(2.9,-1.0)(2.91,-0.4)(2.97,-1.9)(2.98,-0.5)(3.03,-1.0)(3.04,-0.5)(3.08,-1.2)(3.09,-0.5)(3.12,-1.4)(3.13,-0.5)(3.2,-1.2)(3.21,-0.7)(3.24,-2.0)(3.25,-1.0)(3.26,-3.1)(3.27,-1.2)(3.28,-2.0)(3.29,-1.3)(3.31,-2.2)(3.32,-1.2)(3.33,-2.4)(3.34,-1.2)(3.36,-1.0)(3.4,-0.3)(3.45,-0.12)
(3.55,-0.1)(3.65,-0.13)(3.75,-0.08)(3.85,-0.12)(3.95,-0.09)(4.05,-0.13)(4.15,-0.1)(4.25,-0.12)(4.35,-0.08)(4.45,-0.13)(4.55,-0.1)(4.65,-0.12)(4.75,-0.09)(4.85,-0.13)(4.95,-0.1)(5.05,-0.14)
(5.1,-0.2)(5.15,-0.7)(5.18,-1.2)(5.19,-0.8)(5.21,-1.6)(5.22,-1.0)(5.24,-2.5)(5.25,-1.2)(5.27,-2.6)(5.28,-1.2)(5.32,-2.4)(5.33,-1.2)(5.35,-2.0)(5.36,-1.5)(5.37,-3.9)(5.38,-1.2)(5.43,-1.2)(5.44,-0.6)(5.48,-2.1)(5.49,-0.6)(5.54,-1.3)(5.55,-0.5)(5.58,-0.9)(5.59,-0.5)(5.62,-1.2)(5.63,-0.5)(5.67,-2.5)(5.68,-0.6)(5.73,-1.2)(5.74,-0.5)(5.78,-0.9)(5.79,-0.5)(5.82,-1.4)(5.83,-0.5)(5.9,-1.1)(5.91,-0.5)(5.95,-0.8)(5.96,-0.4)(6.0,-1.0)(6.01,-0.5)(6.05,-0.9)(6.06,-0.6)(6.1,-2.3)(6.11,-0.8)(6.13,-1.2)(6.15,-1.0)(6.17,-1.7)(6.18,-1.0)(6.2,-1.3)(6.21,-1.0)(6.23,-2.4)(6.24,-1.2)(6.26,-1.6)(6.27,-1.3)(6.28,-2.7)(6.29,-1.4)(6.31,-1.5)(6.34,-0.3)(6.4,-0.1)
(6.5,-0.13)(6.6,-0.08)(6.7,-0.12)(6.8,-0.09)(6.9,-0.13)(7.0,-0.1)(7.1,-0.12)(7.2,-0.08)(7.3,-0.13)(7.4,-0.1)(7.5,-0.12)(7.6,-0.09)(7.7,-0.13)(7.8,-0.1)(7.9,-0.12)(8.0,-0.15)
(8.05,-0.2)(8.1,-0.8)(8.13,-1.3)(8.14,-0.9)(8.15,-3.6)(8.16,-1.5)(8.17,-5.7)(8.18,-1.2)(8.22,-1.2)(8.23,-0.8)(8.27,-2.0)(8.28,-0.8)(8.33,-1.6)(8.34,-0.8)(8.38,-2.9)(8.39,-0.8)(8.44,-1.5)(8.45,-0.8)(8.47,-2.8)(8.48,-0.8)(8.53,-1.5)(8.54,-0.7)(8.6,-2.7)(8.61,-0.7)(8.66,-1.5)(8.67,-0.7)(8.74,-1.3)(8.75,-0.7)(8.82,-1.4)(8.83,-0.7)(8.86,-4.8)(8.87,-0.8)(8.92,-1.0)(8.93,-0.6)(8.96,-1.4)(8.97,-0.7)(9.0,-2.5)(9.01,-0.7)(9.06,-1.0)(9.07,-0.6)(9.1,-1.3)(9.11,-0.7)(9.15,-1.0)(9.16,-0.8)(9.19,-1.7)(9.2,-1.2)(9.21,-1.5)(9.22,-1.2)(9.23,-3.1)(9.24,-1.2)(9.25,-1.5)(9.28,-0.3)(9.33,-0.1)
(9.4,-0.13)(9.5,-0.08)(9.6,-0.12)(9.7,-0.09)(9.8,-0.13)(9.9,-0.1)(10,-0.12)} \closedcycle;
\addplot[wht] coordinates {(0,0.05)(0.05,0.3)(0.15,0.4)(0.3,0.3)(0.4,0.4)(0.46,0.05)(1.0,0.04)(1.5,0.05)(2.0,0.04)(2.2,0.1)(2.28,0.45)(2.4,0.3)(2.5,0.4)(2.8,0.25)(3.0,0.35)(3.25,0.4)(3.4,0.05)(4.0,0.04)(4.5,0.05)(5.1,0.06)(5.2,0.35)(5.35,0.5)(5.6,0.3)(5.9,0.25)(6.1,0.35)(6.3,0.4)(6.35,0.05)(7.0,0.04)(7.5,0.05)(8.05,0.06)(8.17,0.5)(8.3,0.3)(8.6,0.35)(8.86,0.45)(9.0,0.3)(9.22,0.4)(9.3,0.05)(10,0.04)} \closedcycle;
\addplot[zl] coordinates {(0,-0.03)(10,-0.03)};
\end{axis}

% ---------------- Panel 8: Z spectrum 0-250
\begin{axis}[lv, at={(354pt,277pt)}, width=522pt, height=161pt,
 xmin=0,xmax=250,ymin=0,ymax=0.004, xtick={0,25,...,250},
 ytick={0,0.001,0.002,0.003,0.004}, yticklabels={0,0.001,0.002,0.003,0.004},
 minor x tick num=4, minor y tick num=5, ticklabel style={font=\fs{10.5}}]
\addplot[spec] coordinates {(0,0.004)(0.3,0.0035)(0.6,0.0034)(1,0.0023)(1.3,0.0025)(1.6,0.0015)(2,0.0012)(2.5,0.0009)(3,0.0007)(3.5,0.0005)(4,0.0004)(4.5,0.00035)(5,0.0003)(5.5,0.0004)(6,0.00025)(6.5,0.00038)(7,0.0003)(7.5,0.00035)(8,0.00025)(8.5,0.0003)(9,0.0002)(9.5,0.00025)(10,0.00015)(11,0.0002)(12,0.0001)(13,0.00012)(14,0.00008)(15,0.0001)(16,0.00006)(17,0.0001)(18,0.00012)(19,0.00017)(20,0.00008)(21,0.00006)(22,0.00004)(23,0.00007)(24,0.00005)(25,0.00004)(26,0.00006)(27,0.00005)(28,0.00008)(29,0.00007)(30,0.0001)(31,0.00008)(32,0.00012)(33,0.00015)(34,0.0001)(35,0.00007)(36,0.00006)(37,0.00005)(38,0.00008)(39,0.0001)(40,0.0002)(41,0.00012)(42,0.0001)(43,0.00008)(44,0.00012)(45,0.00009)(46,0.0001)(47,0.00013)(48,0.0003)(49,0.0011)(49.5,0.00165)(50,0.0006)(50.5,0.0005)(51,0.0004)(52,0.00025)(53,0.0002)(54,0.00015)(55,0.0001)(56,0.00012)(57,0.00007)(58,0.00009)(59,0.00006)(60,0.00005)(62,0.00007)(64,0.00004)(66,0.00006)(68,0.00005)(70,0.00003)(72,0.00006)(74,0.00004)(76,0.00005)(78,0.00004)(80,0.00006)(82,0.00005)(84,0.00008)(86,0.00005)(88,0.00004)(90,0.00006)(92,0.00005)(94,0.00007)(96,0.0001)(97,0.00015)(98,0.0006)(99,0.0009)(99.5,0.00125)(100,0.0007)(100.5,0.0005)(101,0.0004)(102,0.00025)(103,0.0002)(104,0.00015)(105,0.00012)(106,0.0001)(107,0.00009)(108,0.00012)(109,0.00006)(110,0.00005)(112,0.00004)(114,0.00003)(116,0.00004)(118,0.00003)(120,0.00004)(122,0.00003)(124,0.00002)(126,0.00004)(128,0.00003)(130,0.00004)(132,0.00002)(134,0.00003)(136,0.00004)(138,0.00003)(140,0.0001)(141,0.00003)(143,0.00004)(145,0.00003)(147,0.00006)(148,0.00025)(149,0.00033)(150,0.00022)(151,0.00015)(152,0.0001)(153,0.00008)(155,0.00005)(157,0.00006)(159,0.00005)(161,0.00004)(163,0.00003)(165,0.00004)(167,0.00003)(169,0.00004)(171,0.00003)(173,0.00005)(174,0.00008)(175,0.00003)(177,0.00004)(179,0.00003)(181,0.00004)(183,0.00003)(185,0.00004)(187,0.00003)(189,0.00004)(191,0.00003)(193,0.00004)(195,0.00003)(197,0.00005)(198,0.0001)(199,0.00028)(200,0.00016)(201,0.00012)(202,0.0001)(203,0.00006)(205,0.00004)(207,0.00003)(209,0.00004)(211,0.00003)(213,0.00002)(215,0.00003)(217,0.00004)(219,0.00002)(221,0.00003)(223,0.00002)(225,0.00003)(227,0.00004)(229,0.00002)(231,0.00003)(233,0.00002)(235,0.00003)(237,0.00004)(239,0.00002)(241,0.00003)(243,0.00002)(245,0.00003)(247,0.00004)(248,0.0001)(249,0.00015)(250,0.00008)};
\end{axis}

% ---------------- Panel 9: Z spectrum 0-50
\begin{axis}[lv, at={(357pt,41pt)}, width=522pt, height=160pt,
 xmin=0,xmax=50,ymin=0,ymax=0.004, xtick={0,2,...,50},
 ytick={0,0.001,0.002,0.003,0.004}, yticklabels={0,0.001,0.002,0.003,0.004},
 minor x tick num=2, minor y tick num=5, ticklabel style={font=\fs{10.5}}]
\addplot[spec] coordinates {(0,0.004)(0.1,0.004)(0.2,0.0018)(0.3,0.0035)(0.35,0.0032)(0.4,0.0015)(0.5,0.0004)(0.6,0.0001)(0.7,0.0004)(0.8,0.0003)(0.9,0.0001)(1.0,0.0034)(1.1,0.0026)(1.2,0.0009)(1.3,0.0004)(1.4,0.0007)(1.5,0.0005)(1.6,0.0002)(1.7,0.0006)(1.8,0.0004)(1.9,0.0013)(2.0,0.0023)(2.1,0.0021)(2.2,0.0003)(2.4,0.0002)(2.6,0.00035)(2.8,0.0002)(3.0,0.0009)(3.1,0.0005)(3.2,0.0002)(3.4,0.0003)(3.6,0.00015)(3.8,0.0004)(4.0,0.0001)(4.2,0.0003)(4.4,0.00015)(4.6,0.0001)(4.8,0.0004)(5.0,0.00035)(5.2,0.0001)(5.4,0.0003)(5.6,0.0004)(5.8,0.00015)(6.0,0.0003)(6.2,0.0001)(6.4,0.00035)(6.6,0.0002)(6.8,0.00035)(7.0,0.0001)(7.2,0.0002)(7.4,0.00015)(7.6,0.0003)(7.8,0.0001)(8.0,0.0002)(8.2,0.00015)(8.4,0.00035)(8.6,0.0002)(8.8,0.00028)(9.0,0.00012)(9.2,0.00025)(9.4,0.0001)(9.6,0.00022)(9.8,0.00015)(10.0,0.00025)(10.2,0.0001)(10.5,0.0002)(10.8,0.00008)(11.1,0.00025)(11.4,0.0001)(11.7,0.00006)(12.0,0.00008)(12.4,0.00004)(12.8,0.00006)(13.2,0.00003)(13.6,0.00005)(14.0,0.00002)(14.4,0.00004)(14.8,0.00008)(15.2,0.00005)(15.6,0.0001)(16.0,0.00006)(16.5,0.00018)(16.9,0.0001)(17.3,0.00006)(17.7,0.00012)(18.1,0.00005)(18.6,0.00022)(19.0,0.0001)(19.4,0.00006)(19.8,0.00008)(20.2,0.00005)(20.6,0.00009)(21.0,0.00005)(21.4,0.00004)(21.8,0.0001)(22.2,0.00003)(22.6,0.00008)(23.0,0.00004)(23.4,0.00006)(23.8,0.00003)(24.2,0.00007)(24.6,0.00004)(25.0,0.00005)(25.4,0.00003)(25.8,0.00004)(26.2,0.00007)(26.6,0.00003)(27.0,0.00004)(27.4,0.00002)(27.8,0.00006)(28.2,0.00004)(28.6,0.00003)(29.0,0.00005)(29.4,0.00004)(29.8,0.00006)(30.2,0.00004)(30.6,0.00008)(31.0,0.00012)(31.4,0.00006)(31.8,0.00008)(32.2,0.00012)(32.6,0.00007)(33.0,0.00018)(33.4,0.00008)(33.8,0.0001)(34.2,0.00006)(34.6,0.00012)(35.0,0.00005)(35.4,0.00008)(35.8,0.00004)(36.2,0.00006)(36.6,0.00004)(37.0,0.00007)(37.4,0.00003)(37.8,0.00005)(38.2,0.00003)(38.6,0.00006)(39.0,0.00004)(39.6,0.00025)(40.0,0.00018)(40.4,0.00012)(40.8,0.00009)(41.2,0.00011)(41.6,0.00006)(42.0,0.0001)(42.4,0.00007)(42.8,0.00012)(43.2,0.00006)(43.6,0.0001)(44.0,0.00005)(44.4,0.00008)(44.8,0.00005)(45.2,0.00009)(45.6,0.00004)(46.0,0.00006)(46.4,0.00005)(46.8,0.00008)(47.2,0.00009)(47.6,0.00012)(48.0,0.00015)(48.4,0.0002)(48.6,0.0003)(48.8,0.00018)(49.0,0.0002)(49.2,0.0004)(49.4,0.00025)(49.5,0.0011)(49.6,0.0017)(49.7,0.0008)(49.8,0.0016)(49.9,0.0013)(50,0.0011)};
\end{axis}

% ---------------- texts
\begin{scope}[x=1pt,y=-1pt,yshift=1542pt]
\node[anchor=west,font=\fs{9.5},text=black!85] at (439,19) {Source};
\node[anchor=west,font=\fs{9.5},text=black!85] at (439,35) {Hilbert Transform};
\node[anchor=west,font=\fs{9.5},text=black!85] at (997,19) {Source};
\node[anchor=west,font=\fs{9.5},text=black!85] at (997,35) {Hilbert Transform};
\node[anchor=west,font=\fs{10.5},text=black!85] at (751,742) {Source};
\node[anchor=west,font=\fs{10.5},text=black!85] at (751,760) {Hilbert Transform};
\node[anchor=west,font=\fs{9.3},text=black!85] at (3,40) {Raw Waveform and Hilbert Envelope X-Axis};
\node[anchor=west,font=\fs{9.3},text=black!85] at (560,40) {Raw Waveform and Hilbert Envelope Y-Axis};
\node[anchor=west,font=\fs{10.5},text=black!85] at (271,765) {Raw Waveform and Hilbert Envelope Z-Axis};
\node[rotate=90,font=\fs{9.3},text=amp] at (26,160) {Amplitude};
\node[rotate=90,font=\fs{9.3},text=amp] at (582,160) {Amplitude};
\node[rotate=90,font=\fs{10.5},text=amp] at (296,907) {Amplitude};
\node[font=\fs{9.3},text=black!80] at (294,290) {Time};
\node[font=\fs{9.3},text=black!80] at (851,292) {Time};
\node[font=\fs{10.5},text=black!80] at (591,1061) {Time};
\node[anchor=west,font=\bfseries\fs{10}] at (3,310) {Hilbert Envelope Detected Spectrum};
\node[anchor=west,font=\bfseries\fs{13.5}] at (560,310) {Envelope Detected Spectrum Y-Axis};
\node[anchor=west,font=\bfseries\fs{10}] at (3,527) {Hilbert Envelope Detected Spectrum};
\node[anchor=west,font=\bfseries\fs{10.3}] at (561,522) {Hilbert Envelope Detected Spectrum - Y-Axis};
\node[anchor=west,font=\bfseries\fs{11}] at (268,1082) {Hilbert Envelope Detected Spectrum Z-Axis};
\node[anchor=west,font=\bfseries\fs{11}] at (271,1320) {Hilbert Envelope Detected Spectrum Z-Axis};
\node[rotate=90,font=\fs{10},text=amp] at (33,400) {Amplitude};
\node[rotate=90,font=\fs{13.5},text=amp] at (600,396) {Amplitude};
\node[rotate=90,font=\fs{10},text=amp] at (33,618) {Amplitude};
\node[rotate=90,font=\fs{10},text=amp] at (592,617) {Amplitude};
\node[rotate=90,font=\fs{10.5},text=amp] at (308,1185) {Amplitude};
\node[rotate=90,font=\fs{10.5},text=amp] at (311,1420) {Amplitude};
\node[font=\fs{10},text=black!85] at (312,500) {Frequency (Hz)};
\node[font=\fs{13.5},text=black!85] at (886,496) {Frequency (Hz)};
\node[font=\fs{10},text=black!85] at (318,720) {Frequency (Hz)};
\node[font=\fs{10},text=black!85] at (887,722) {Frequency (Hz)};
\node[font=\fs{10.5},text=black!85] at (615,1297) {Frequency (Hz)};
\node[font=\fs{10.5},text=black!85] at (618,1533) {Frequency (Hz)};
\node[font=\fs{9},text=black!70!gmin] at (232,341) {X-Axis};
\node[font=\fs{9},text=black!70!gmin] at (232,573) {X-Axis};
\begin{scope}\clip (840,297.5) rectangle (940,304);
\node[font=\fs{13},anchor=base] at (885,301) {Time (s)};
\end{scope}
\end{scope}
\end{tikzpicture}
\end{document}
